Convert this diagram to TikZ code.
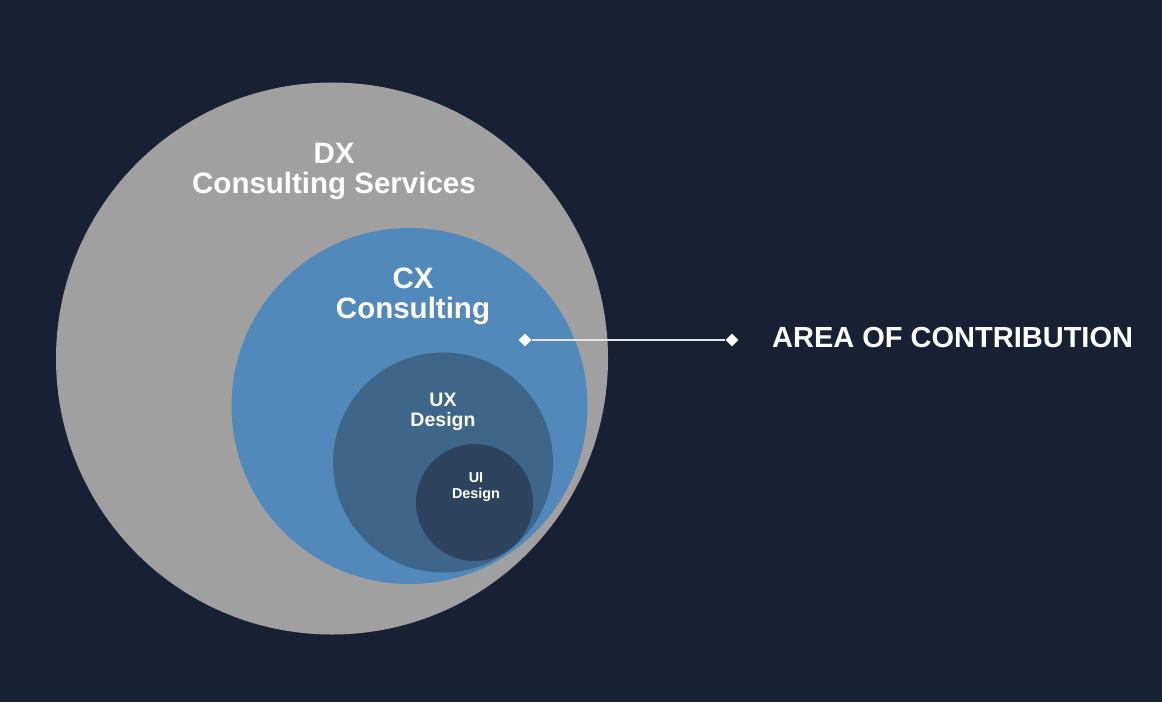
\documentclass[tikz,border=0pt]{standalone}
\usepackage{fontspec}
\setmainfont{Liberation Sans}
\usetikzlibrary{shapes.geometric}
\definecolor{bg}{HTML}{182033}
\definecolor{dxc}{HTML}{A0A0A0}
\definecolor{cxc}{HTML}{5189BA}
\definecolor{uxc}{HTML}{3D6689}
\definecolor{uic}{HTML}{2E445E}
\definecolor{linec}{HTML}{E6E6E6}
\tikzset{
  lbl/.style={text=white, anchor=base, inner sep=0pt, font=\bfseries},
  big/.style={lbl, font=\bfseries\fontsize{29.5}{30}\selectfont},
  mid/.style={lbl, font=\bfseries\fontsize{19.5}{20}\selectfont},
  small/.style={lbl, font=\bfseries\fontsize{14.4}{15}\selectfont},
  dia/.style={diamond, fill=white, inner sep=0pt, minimum size=13pt},
}
\begin{document}
\begin{tikzpicture}[x=1pt, y=-1pt]
\fill[bg] (0,0) rectangle (1162,702);
\useasboundingbox (0,0) rectangle (1162,702);
\fill[dxc] (332,358.5) circle[radius=276];
\fill[cxc] (409.5,406) circle[radius=178];
\fill[uxc] (443,462.5) circle[radius=110];
\fill[uic] (474.5,502.5) circle[radius=58.5];
\node[big] (dx1) at (334,163) {DX};
\node[big] (dx2) at (334,193) {Consulting Services};
\node[big] (cx1) at (413,288) {CX};
\node[big] (cx2) at (413,318) {Consulting};
\node[mid] (ux1) at (443,406) {UX};
\node[mid] (ux2) at (443,426) {Design};
\node[small] (ui1) at (476,482) {UI};
\node[small] (ui2) at (476,498) {Design};
\node[dia] (d1) at (525,340) {};
\node[dia] (d2) at (732,340) {};
\draw[linec, line width=1.8pt] (d1) -- (d2);
\node[lbl, anchor=west, font=\bfseries\fontsize{29}{30}\selectfont] (aoc) at (772,338) {AREA OF CONTRIBUTION};
\end{tikzpicture}
\end{document}
